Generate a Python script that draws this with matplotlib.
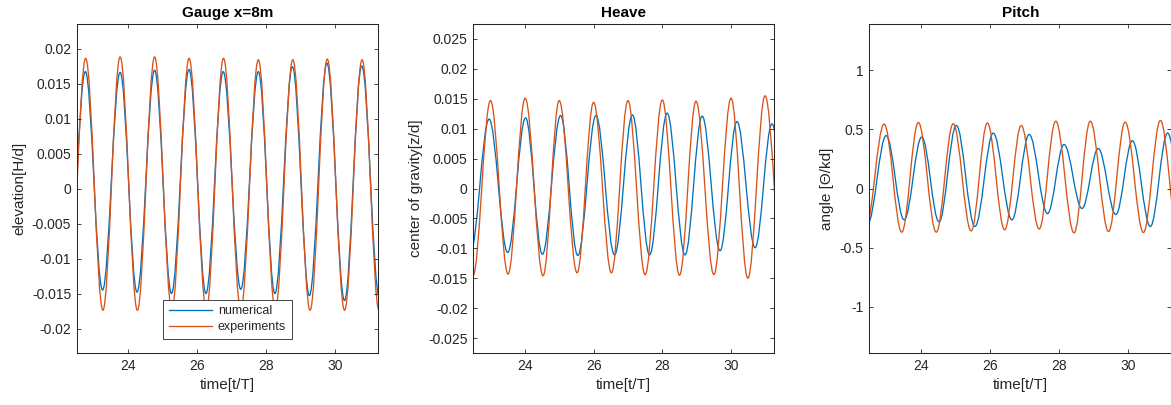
import matplotlib
matplotlib.use("Agg")
import matplotlib.pyplot as plt
from matplotlib.path import Path
from matplotlib.patches import PathPatch
from matplotlib.lines import Line2D

plt.rcParams['font.family'] = ['Liberation Sans', 'DejaVu Sans']

# ---------------- data (extremes: alternating trough/peak) ----------------
gauge_num_t = [22.25, 22.75, 23.25, 23.76, 24.25, 24.76, 25.25, 25.76, 26.25, 26.75,
               27.26, 27.77, 28.25, 28.76, 29.25, 29.76, 30.27, 30.77, 31.28]
gauge_num_y = [-0.0145, 0.0167, -0.0145, 0.0166, -0.0148, 0.0169, -0.0150, 0.0170, -0.0150, 0.0167,
               -0.0144, 0.0167, -0.0150, 0.0174, -0.0153, 0.0179, -0.0160, 0.0175, -0.0155]
gauge_exp_t = [22.26, 22.76, 23.26, 23.76, 24.26, 24.76, 25.26, 25.76, 26.26, 26.76,
               27.26, 27.77, 28.26, 28.77, 29.27, 29.77, 30.27, 30.78, 31.27]
gauge_exp_y = [-0.0173, 0.0186, -0.0174, 0.0188, -0.0174, 0.0188, -0.0173, 0.0186, -0.0173, 0.0186,
               -0.0173, 0.0184, -0.0173, 0.0184, -0.0174, 0.0185, -0.0174, 0.0184, -0.0174]

heave_num_t = [22.42, 22.96, 23.50, 24.02, 24.51, 25.04, 25.54, 26.07, 26.61, 27.13,
               27.63, 28.14, 28.66, 29.16, 29.68, 30.17, 30.70, 31.19, 31.70]
heave_num_y = [-0.0106, 0.0116, -0.0107, 0.0118, -0.0110, 0.0122, -0.0112, 0.0122, -0.0111, 0.0123,
               -0.0111, 0.0126, -0.0111, 0.0121, -0.0104, 0.0112, -0.0099, 0.0108, -0.0100]
heave_exp_t = [22.49, 23.00, 23.51, 24.01, 24.53, 25.00, 25.52, 26.00, 26.52, 27.00,
               27.50, 28.00, 28.50, 28.98, 29.50, 30.00, 30.49, 30.99, 31.52]
heave_exp_y = [-0.0146, 0.0147, -0.0143, 0.0151, -0.0146, 0.0147, -0.0141, 0.0144, -0.0141, 0.0147,
               -0.0144, 0.0148, -0.0145, 0.0146, -0.0144, 0.0151, -0.0150, 0.0155, -0.0145]

pitch_num_t = [22.45, 22.99, 23.51, 24.02, 24.52, 25.02, 25.56, 26.09, 26.63, 27.13,
               27.66, 28.14, 28.66, 29.13, 29.64, 30.12, 30.64, 31.14, 31.65]
pitch_num_y = [-0.30, 0.447, -0.265, 0.435, -0.282, 0.533, -0.321, 0.468, -0.265, 0.457,
               -0.212, 0.372, -0.169, 0.338, -0.220, 0.403, -0.321, 0.468, -0.30]
pitch_exp_t = [22.38, 22.93, 23.44, 23.92, 24.44, 24.93, 25.45, 25.92, 26.42, 26.90,
               27.42, 27.90, 28.43, 28.90, 29.43, 29.91, 30.44, 30.93, 31.44]
pitch_exp_y = [-0.36, 0.544, -0.369, 0.558, -0.369, 0.547, -0.358, 0.553, -0.349, 0.532,
               -0.342, 0.569, -0.375, 0.569, -0.363, 0.561, -0.372, 0.575, -0.37]

titles = ["Gauge x=8m", "Heave", "Pitch"]
ylabels = ["elevation[H/d]", "center of gravity[z/d]", "angle [\u0398/kd]"]
xlabel = "time[t/T]"
xticks = [24, 26, 28, 30]
gauge_yticks = [-0.02, -0.015, -0.01, -0.005, 0, 0.005, 0.01, 0.015, 0.02]
gauge_yticklabels = ["-0.02", "-0.015", "-0.01", "-0.005", "0", "0.005", "0.01", "0.015", "0.02"]
heave_yticks = [-0.025, -0.02, -0.015, -0.01, -0.005, 0, 0.005, 0.01, 0.015, 0.02, 0.025]
heave_yticklabels = ["-0.025", "-0.02", "-0.015", "-0.01", "-0.005", "0", "0.005", "0.01",
                     "0.015", "0.02", "0.025"]
pitch_yticks = [-1, -0.5, 0, 0.5, 1]
pitch_yticklabels = ["-1", "-0.5", "0", "0.5", "1"]
legend_labels = ["numerical", "experiments"]

# ---------------- styling ----------------
BLUE = "#0072BD"
ORANGE = "#D95319"
AXC = "#262626"
LW = 0.95
K = 0.3634  # Bezier handle fraction giving a cosine-like half wave


def wave_path(ts, ys):
    verts = [(ts[0], ys[0])]
    codes = [Path.MOVETO]
    for i in range(len(ts) - 1):
        dt = ts[i + 1] - ts[i]
        verts += [(ts[i] + K * dt, ys[i]), (ts[i + 1] - K * dt, ys[i + 1]), (ts[i + 1], ys[i + 1])]
        codes += [Path.CURVE4] * 3
    return Path(verts, codes)


W, H = 1171, 405
fig = plt.figure(figsize=(W / 100, H / 100), dpi=100)
fig.patch.set_facecolor("white")

pos = [(76.7, 378.3), (473.3, 774.0), (869.3, 1171.4)]
top_px, bot_px = 24, 353
ylims = [(-0.0235, 0.0235), (-0.0275, 0.0275), (-1.39, 1.39)]
series = [(gauge_num_t, gauge_num_y, gauge_exp_t, gauge_exp_y),
          (heave_num_t, heave_num_y, heave_exp_t, heave_exp_y),
          (pitch_num_t, pitch_num_y, pitch_exp_t, pitch_exp_y)]
yt = [(gauge_yticks, gauge_yticklabels), (heave_yticks, heave_yticklabels),
      (pitch_yticks, pitch_yticklabels)]

axes = []
for i in range(3):
    l, r = pos[i]
    ax = fig.add_axes([l / W, (H - bot_px) / H, (r - l) / W, (bot_px - top_px) / H])
    axes.append(ax)
    nt, ny, et, ey = series[i]
    ax.add_patch(PathPatch(wave_path(nt, ny), fill=False, edgecolor=BLUE, lw=LW, capstyle='round', joinstyle='round'))
    ax.add_patch(PathPatch(wave_path(et, ey), fill=False, edgecolor=ORANGE, lw=LW, capstyle='round', joinstyle='round'))
    ax.set_xlim(22.5, 31.25)
    ax.set_ylim(*ylims[i])
    ax.set_xticks(xticks)
    ax.set_xticklabels([str(v) for v in xticks])
    ax.set_yticks(yt[i][0])
    ax.set_yticklabels(yt[i][1])
    ax.tick_params(direction='in', top=True, right=True, length=3.2, width=0.6,
                   color=AXC, labelcolor=AXC, labelsize=10, pad=4)
    for s in ax.spines.values():
        s.set_color(AXC)
        s.set_linewidth(0.75)
    ax.set_title(titles[i], fontsize=11, fontweight='bold', color='black', pad=5)
    ax.set_xlabel(xlabel, fontsize=11, color=AXC, labelpad=4)
    ax.set_ylabel(ylabels[i], fontsize=11, color=AXC, labelpad=4)

handles = [Line2D([], [], color=BLUE, lw=LW), Line2D([], [], color=ORANGE, lw=LW)]
leg = axes[0].legend(handles, legend_labels, loc='lower center', bbox_to_anchor=(0.5, 0.043),
                     borderaxespad=0, fontsize=9, handlelength=3.45, handletextpad=0.45,
                     labelspacing=0.3, borderpad=0.45, fancybox=False, framealpha=1,
                     edgecolor=AXC)
leg.get_frame().set_linewidth(0.6)
for t in leg.get_texts():
    t.set_color(AXC)

fig.savefig("out.png", dpi=100, facecolor="white")
